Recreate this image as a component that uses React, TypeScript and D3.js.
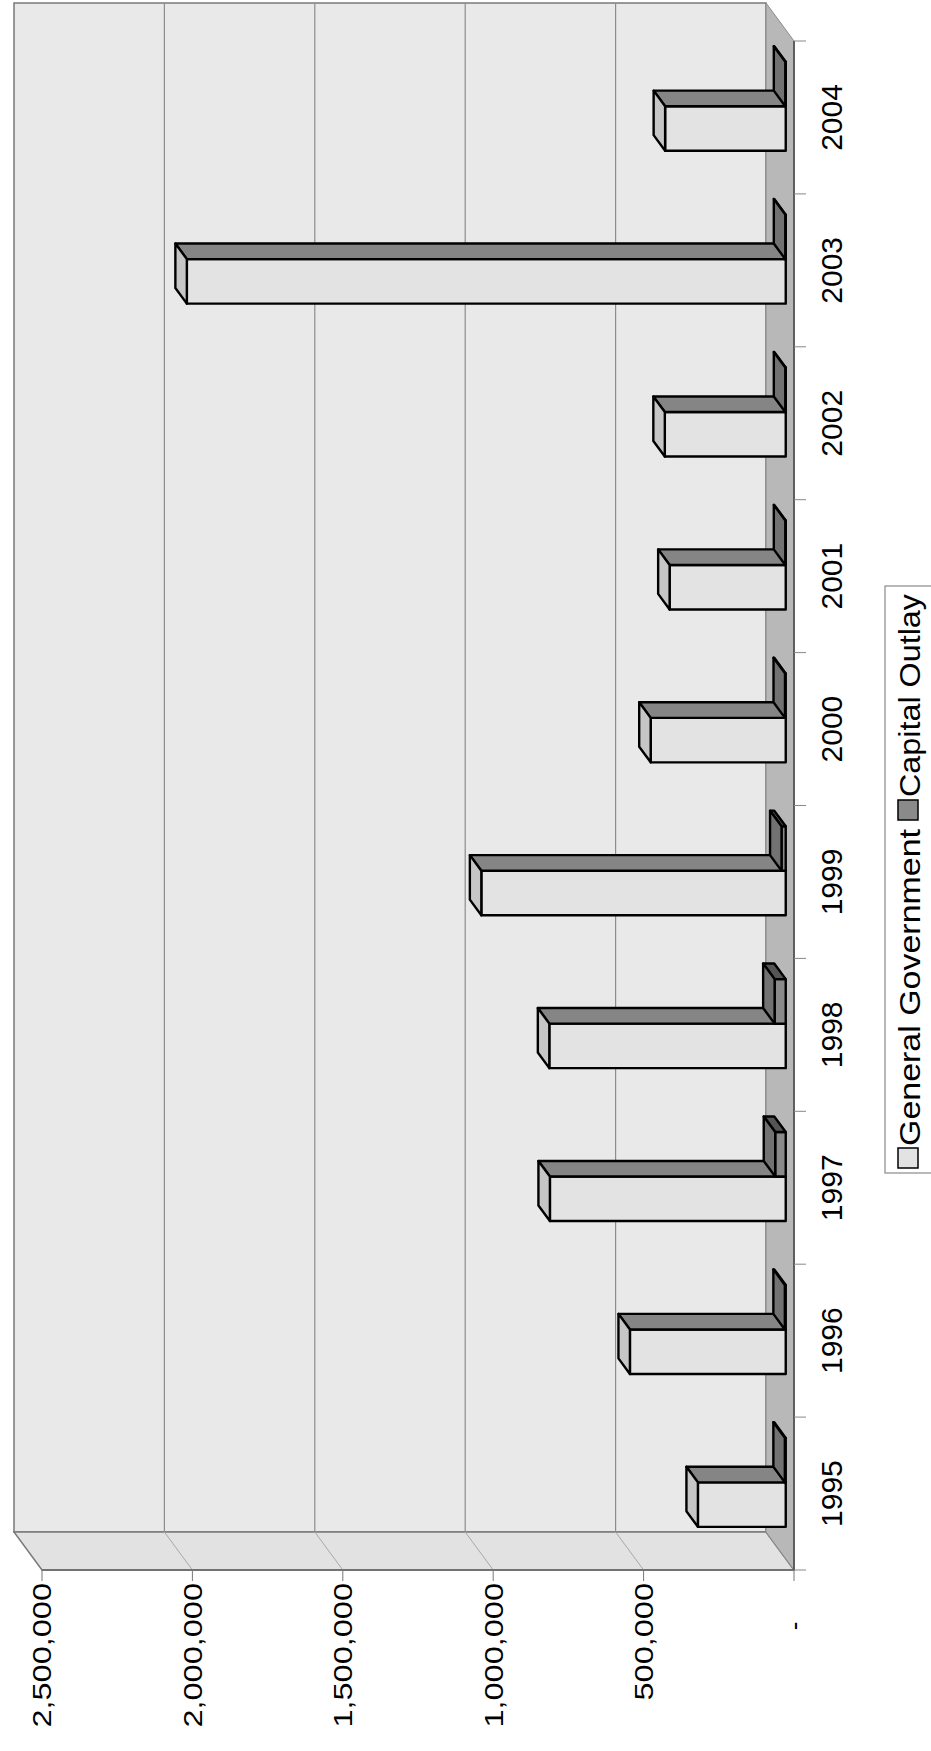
import React from "react";
import * as d3 from "d3";

const years = ["1995", "1996", "1997", "1998", "1999", "2000", "2001", "2002", "2003", "2004"];
const generalGovernment = [292000, 518000, 784000, 786000, 1012000, 449000, 386000, 402000, 1991000, 401000];
const capitalOutlay = [3000, 3000, 35000, 37000, 14000, 2500, 1500, 1500, 1500, 1500];
const seriesNames = ["General Government", "Capital Outlay"];
const valueTicks = [0, 500000, 1000000, 1500000, 2000000, 2500000];

const W = 1751; // unrotated width (becomes page height)
const H = 931;  // unrotated height (becomes page width)

const front = { front: "#e3e3e3", top: "#c6c6c6", side: "#858585" };
const back = { front: "#8a8a8a", top: "#727272", side: "#555555" };
const palette = [front, back];

const FONT = "Liberation Sans, Arial, Helvetica, sans-serif";

export default function App() {
  const x = d3.scaleBand<string>().domain(years).range([181, 1710]).paddingInner(0.418).paddingOuter(0.209);
  const inner = d3.scaleBand<string>().domain(seriesNames).range([0, x.bandwidth()]);
  const y = d3.scaleLinear().domain([0, 2500000]).range([794, 42]);
  const step = x.step();
  const x0 = 181;
  const x1 = 1710;
  const D = { x: 38, y: -28 };
  const bd = { x: D.x * 0.41, y: D.y * 0.41 };
  const off = { x: (D.x - bd.x) / 2, y: (D.y - bd.y) / 2 };
  const fmt = d3.format(",");

  const pts = (a: number[][]) => a.map((p) => p.join(",")).join(" ");

  const bars: React.ReactNode[] = [];
  years.forEach((yr, i) => {
    [generalGovernment[i], capitalOutlay[i]].forEach((v, s) => {
      const c = palette[s];
      const bx0 = (x(yr) as number) + (inner(seriesNames[s]) as number) + off.x;
      const bx1 = bx0 + inner.bandwidth();
      const yt = y(v) + off.y;
      const yb = y(0) + off.y;
      bars.push(
        <g key={yr + s} stroke="#000" strokeWidth={2.4} strokeLinejoin="round">
          <rect x={bx0} y={yt} width={bx1 - bx0} height={Math.max(0.5, yb - yt)} fill={c.front} />
          <polygon points={pts([[bx1, yt], [bx1 + bd.x, yt + bd.y], [bx1 + bd.x, yb + bd.y], [bx1, yb]])} fill={c.side} />
          <polygon points={pts([[bx0, yt], [bx1, yt], [bx1 + bd.x, yt + bd.y], [bx0 + bd.x, yt + bd.y]])} fill={c.top} />
        </g>
      );
    });
  });

  return (
    <svg width={931} height={1751} style={{ position: "absolute", left: 0, top: 0, background: "#fff" }}>
      <g transform={`translate(0,${W}) rotate(-90)`}>
        {/* back wall */}
        <polygon points={pts([[x0 + D.x, y(2500000) + D.y], [x1 + D.x, y(2500000) + D.y], [x1 + D.x, y(0) + D.y], [x0 + D.x, y(0) + D.y]])}
          fill="#e9e9e9" stroke="#7a7a7a" strokeWidth={1.5} />
        {/* side wall */}
        <polygon points={pts([[x0, y(2500000)], [x0 + D.x, y(2500000) + D.y], [x0 + D.x, y(0) + D.y], [x0, y(0)]])}
          fill="#e2e2e2" stroke="#7a7a7a" strokeWidth={1.5} />
        {/* floor */}
        <polygon points={pts([[x0, y(0)], [x0 + D.x, y(0) + D.y], [x1 + D.x, y(0) + D.y], [x1, y(0)]])}
          fill="#b8b8b8" stroke="#8a8a8a" strokeWidth={1} />
        {/* gridlines */}
        {valueTicks.slice(1, -1).map((v) => (
          <g key={"g" + v}>
            <line x1={x0 + D.x} x2={x1 + D.x} y1={y(v) + D.y} y2={y(v) + D.y} stroke="#8c8c8c" strokeWidth={1.2} />
            <line x1={x0} x2={x0 + D.x} y1={y(v)} y2={y(v) + D.y} stroke="#a8a8a8" strokeWidth={1} />
          </g>
        ))}
        {/* axis lines */}
        <line x1={x0} x2={x0} y1={y(2500000)} y2={y(0)} stroke="#666" strokeWidth={1.5} />
        <line x1={x0} x2={x1} y1={y(0)} y2={y(0)} stroke="#555" strokeWidth={1.8} />
        {/* value ticks */}
        {valueTicks.map((v) => (
          <line key={"t" + v} x1={x0} x2={x0 - 11} y1={y(v)} y2={y(v)} stroke="#777" strokeWidth={1} />
        ))}
        {/* category ticks */}
        {d3.range(years.length + 1).map((k) => (
          <line key={"c" + k} x1={x0 + k * step} x2={x0 + k * step} y1={y(0)} y2={y(0) + 12} stroke="#888" strokeWidth={1} />
        ))}
        {bars}
        {/* value labels */}
        {valueTicks.map((v) =>
          v === 0 ? (
            <text key={"l" + v} x={125} y={y(v)} dy="0.35em" textAnchor="middle" fontFamily={FONT} fontSize={26} fill="#000">-</text>
          ) : (
            <text key={"l" + v} transform={`translate(168,${y(v)}) scale(1.25,1)`} dy="0.36em" textAnchor="end" fontFamily={FONT} fontSize={26} fill="#000">
              {fmt(v)}
            </text>
          )
        )}
        {/* category labels */}
        {years.map((yr) => (
          <text key={"y" + yr} x={(x(yr) as number) + x.bandwidth() / 2} y={842} textAnchor="middle" fontFamily={FONT} fontSize={30} fill="#000">
            {yr}
          </text>
        ))}
        {/* legend */}
        <rect x={578} y={885} width={587} height={60} fill="#fff" stroke="#8a8a8a" strokeWidth={1.2} />
        <rect x={583} y={898} width={20} height={20} fill={front.front} stroke="#000" strokeWidth={1.5} />
        <text x={605} y={920} fontFamily={FONT} fontSize={30} textLength={317} lengthAdjust="spacingAndGlyphs">{seriesNames[0]}</text>
        <rect x={931} y={898} width={20} height={20} fill={back.front} stroke="#000" strokeWidth={1.5} />
        <text x={954} y={920} fontFamily={FONT} fontSize={30} textLength={203} lengthAdjust="spacingAndGlyphs">{seriesNames[1]}</text>
      </g>
    </svg>
  );
}
